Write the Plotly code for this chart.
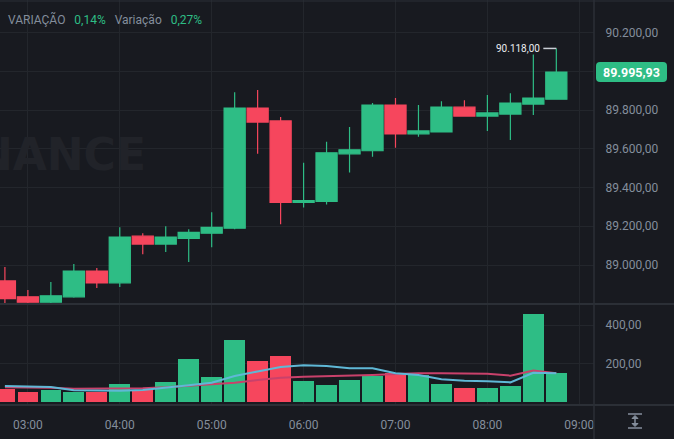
import plotly.graph_objects as go

# ---------------- data ----------------
times = [
    "2024-12-05 02:45", "2024-12-05 03:00", "2024-12-05 03:15", "2024-12-05 03:30",
    "2024-12-05 03:45", "2024-12-05 04:00", "2024-12-05 04:15", "2024-12-05 04:30",
    "2024-12-05 04:45", "2024-12-05 05:00", "2024-12-05 05:15", "2024-12-05 05:30",
    "2024-12-05 05:45", "2024-12-05 06:00", "2024-12-05 06:15", "2024-12-05 06:30",
    "2024-12-05 06:45", "2024-12-05 07:00", "2024-12-05 07:15", "2024-12-05 07:30",
    "2024-12-05 07:45", "2024-12-05 08:00", "2024-12-05 08:15", "2024-12-05 08:30",
    "2024-12-05 08:45",
]
opens = [88918, 88836, 88808, 88836, 88969, 88908, 89149, 89108, 89138, 89164,
         89190, 89810, 89744, 89323, 89328, 89574, 89590, 89826, 89677, 89687,
         89815, 89769, 89779, 89831, 89856]
highs = [88990, 88871, 88913, 89005, 88985, 89195, 89164, 89200, 89185, 89272,
         89892, 89903, 89764, 89528, 89636, 89713, 89836, 89862, 89826, 89846,
         89851, 89877, 89887, 90087, 90118]
lows = [88800, 88804, 88804, 88831, 88882, 88887, 89056, 89067, 89015, 89092,
        89185, 89574, 89210, 89297, 89313, 89477, 89559, 89605, 89662, 89685,
        89769, 89692, 89646, 89774, 89856]
closes = [88826, 88808, 88841, 88969, 88908, 89144, 89108, 89144, 89169, 89195,
          89810, 89738, 89323, 89333, 89579, 89595, 89826, 89677, 89692, 89815,
          89769, 89785, 89836, 89862, 89995.93]
volumes = [67, 52, 62, 52, 52, 94, 62, 104, 223, 130, 322, 213, 239, 109, 88,
           114, 135, 151, 140, 94, 73, 73, 83, 457, 151]
vol_ma_fast = [83, 80, 78, 61, 59, 59, 62, 73, 87, 100, 135, 159, 182, 191, 187,
               175, 175, 149, 140, 118, 111, 108, 102, 152, 149]
vol_ma_slow = [76, 75, 74, 69, 69, 69, 71, 76, 83, 92, 100, 114, 126, 131, 133,
               137, 140, 145, 149, 149, 149, 147, 137, 163, 149]

price_tick_vals = [89000, 89200, 89400, 89600, 89800, 90000, 90200]
price_tick_text = ["89.000,00", "89.200,00", "89.400,00", "89.600,00", "89.800,00", "", "90.200,00"]
vol_tick_vals = [200, 400]
vol_tick_text = ["200,00", "400,00"]
time_tick_vals = ["2024-12-05 03:00", "2024-12-05 04:00", "2024-12-05 05:00", "2024-12-05 06:00",
                  "2024-12-05 07:00", "2024-12-05 08:00", "2024-12-05 09:00"]
time_tick_text = ["03:00", "04:00", "05:00", "06:00", "07:00", "08:00", "09:00"]
legend_labels = ["VARIAÇÃO", "Variação"]
legend_values = ["0,14%", "0,27%"]
watermark = "BINANCE"

# ---------------- style ----------------
W, H = 674, 439
BG = "#181a20"
GRID = "#23262c"
SEP = "#2b2f36"
TXT = "#848e9c"
GREEN = "#2ebd85"
RED = "#f6465d"
BLUE = "#5fb8d6"
PINK = "#c9416b"
FONT = "Roboto"
PLOT_R = 594


def py(px):
    return 1 - px / H


def px_(px):
    return px / W


def fmt_br(v):
    s = f"{v:,.2f}"
    return s.replace(",", "#").replace(".", ",").replace("#", ".")


fig = go.Figure()

fig.add_trace(go.Candlestick(
    x=times, open=opens, high=highs, low=lows, close=closes,
    xaxis="x", yaxis="y",
    increasing=dict(line=dict(color=GREEN, width=1.2), fillcolor=GREEN),
    decreasing=dict(line=dict(color=RED, width=1.2), fillcolor=RED),
    whiskerwidth=0, showlegend=False,
))

bar_colors = [GREEN if c >= o else RED for o, c in zip(opens, closes)]
fig.add_trace(go.Bar(
    x=times, y=volumes, marker=dict(color=bar_colors, line=dict(width=0)),
    width=15 * 60 * 1000 * 0.9, xaxis="x", yaxis="y2", showlegend=False,
))
fig.add_trace(go.Scatter(x=times, y=vol_ma_slow, mode="lines", line=dict(color=PINK, width=2),
                         xaxis="x", yaxis="y2", showlegend=False))
fig.add_trace(go.Scatter(x=times, y=vol_ma_fast, mode="lines", line=dict(color=BLUE, width=2),
                         xaxis="x", yaxis="y2", showlegend=False))

i_max = max(range(len(highs)), key=lambda i: highs[i])
last_close = closes[-1]

ix = px_(635)
shapes = [
    # pane separators and borders
    dict(type="line", xref="paper", yref="paper", x0=0, x1=1, y0=py(304), y1=py(304),
         line=dict(color=SEP, width=2), layer="above"),
    dict(type="line", xref="paper", yref="paper", x0=0, x1=1, y0=py(405), y1=py(405),
         line=dict(color=SEP, width=2), layer="above"),
    dict(type="line", xref="paper", yref="paper", x0=px_(PLOT_R), x1=px_(PLOT_R), y0=0, y1=1,
         line=dict(color=SEP, width=1.5), layer="above"),
    dict(type="line", xref="paper", yref="paper", x0=0, x1=1, y0=py(1), y1=py(1),
         line=dict(color=SEP, width=1), layer="above"),
    # last price tag (rounded)
    dict(type="path", xref="paper", yref="y", xsizemode="pixel", ysizemode="pixel",
         xanchor=px_(596), yanchor=last_close,
         path="M 4,-10 L 67,-10 Q 71,-10 71,-6 L 71,6 Q 71,10 67,10 L 4,10 Q 0,10 0,6 L 0,-6 Q 0,-10 4,-10 Z",
         fillcolor=GREEN, line=dict(width=0), layer="above"),
    # high marker tick
    dict(type="line", xref="x", yref="y", xsizemode="pixel", xanchor=times[i_max],
         x0=-13, x1=0, y0=highs[i_max], y1=highs[i_max],
         line=dict(color="#c9ced6", width=1.5), layer="above"),
    # auto-scale icon
    dict(type="line", xref="paper", yref="paper", x0=px_(628), x1=px_(642), y0=py(414), y1=py(414),
         line=dict(color=TXT, width=1.5), layer="above"),
    dict(type="line", xref="paper", yref="paper", x0=px_(628), x1=px_(642), y0=py(428), y1=py(428),
         line=dict(color=TXT, width=1.5), layer="above"),
    dict(type="line", xref="paper", yref="paper", x0=ix, x1=ix, y0=py(417), y1=py(425),
         line=dict(color=TXT, width=1.5), layer="above"),
    dict(type="path", xref="paper", yref="paper", xsizemode="pixel", ysizemode="pixel",
         xanchor=ix, yanchor=py(421),
         path="M -3,2.5 L 0,5.5 L 3,2.5 Z M -3,-2.5 L 0,-5.5 L 3,-2.5 Z",
         fillcolor=TXT, line=dict(color=TXT, width=1), layer="above"),
]

gap = "&nbsp;&nbsp;&nbsp;"
legend_html = (
    f'<span style="color:{TXT}">{legend_labels[0]}</span>{gap}'
    f'<span style="color:{GREEN}">{legend_values[0]}</span>{gap}'
    f'<span style="color:{TXT}">{legend_labels[1]}</span>{gap}'
    f'<span style="color:{GREEN}">{legend_values[1]}</span>'
)

annotations = [
    dict(text=legend_html, xref="paper", yref="paper", x=px_(6), y=py(19), xanchor="left",
         yanchor="middle", showarrow=False, font=dict(family=FONT, size=12)),
    dict(text=f"<b>{watermark}</b>", xref="paper", yref="paper", x=px_(148), y=py(154),
         xanchor="right", yanchor="middle", showarrow=False,
         font=dict(family="DejaVu Sans", size=44, color="#212329")),
    dict(text=f"<b>{fmt_br(last_close)}</b>", xref="paper", yref="y", x=px_(596 + 35.5), y=last_close,
         xanchor="center", yanchor="middle", showarrow=False,
         font=dict(family=FONT, size=12.5, color="#ffffff")),
    dict(text=fmt_br(highs[i_max]), xref="x", yref="y", x=times[i_max], y=highs[i_max],
         xanchor="right", yanchor="middle", xshift=-14, showarrow=False,
         font=dict(family=FONT, size=10, color="#eaecef")),
]

fig.update_layout(
    width=W, height=H,
    margin=dict(l=0, r=0, t=0, b=0),
    paper_bgcolor=BG, plot_bgcolor=BG,
    separators=",.",
    showlegend=False,
    hovermode=False,
    bargap=0,
    boxgap=0.08, boxgroupgap=0,
    font=dict(family=FONT, color=TXT, size=12),
    xaxis=dict(
        domain=[0, px_(PLOT_R)], anchor="y2",
        range=["2024-12-05 02:41:48", "2024-12-05 09:09:36"],
        tickvals=time_tick_vals, ticktext=time_tick_text,
        showgrid=True, gridcolor=GRID, gridwidth=1,
        ticks="outside", ticklen=10, tickcolor=BG,
        tickfont=dict(family=FONT, size=12, color=TXT),
        showline=False, zeroline=False,
        rangeslider=dict(visible=False), fixedrange=True,
    ),
    yaxis=dict(
        domain=[py(303), 1], anchor="x", side="right",
        range=[88804, 90368],
        tickvals=price_tick_vals, ticktext=price_tick_text,
        showgrid=True, gridcolor=GRID, gridwidth=1,
        ticks="outside", ticklen=8, tickcolor=BG,
        tickfont=dict(family=FONT, size=12, color=TXT),
        showline=False, zeroline=False, fixedrange=True,
    ),
    yaxis2=dict(
        domain=[py(404), py(305)], anchor="x", side="right",
        range=[-10.4, 504],
        tickvals=vol_tick_vals, ticktext=vol_tick_text,
        showgrid=True, gridcolor=GRID, gridwidth=1,
        ticks="outside", ticklen=8, tickcolor=BG,
        tickfont=dict(family=FONT, size=12, color=TXT),
        showline=False, zeroline=False, fixedrange=True,
    ),
    shapes=shapes,
    annotations=annotations,
)

fig.write_html("out.html", config={"displayModeBar": False})
